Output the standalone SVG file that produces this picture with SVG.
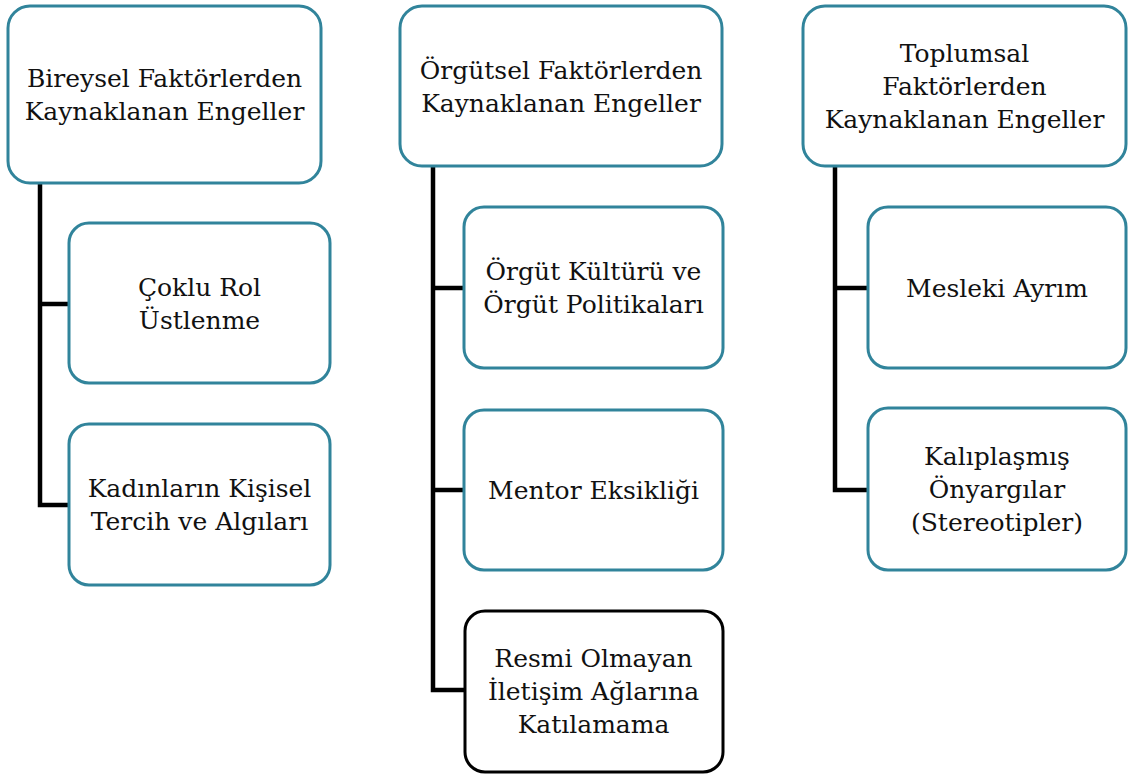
<svg xmlns="http://www.w3.org/2000/svg" width="1128" height="776" viewBox="0 0 1128 776">
<style>
.box{fill:#fff;stroke:#31849B;stroke-width:3}
.boxk{fill:#fff;stroke:#000;stroke-width:3}
.t{font-family:'DejaVu Serif','Liberation Serif',serif;font-size:25px;fill:#111;text-anchor:middle}
.c{fill:none;stroke:#000;stroke-width:4.5}
</style>
<rect width="1128" height="776" fill="#fff"/>
<g id="connectors">
<path class="c" d="M40 183 V505 H70 M40 304 H70"/>
<path class="c" d="M433 166 V690 H465 M433 288 H465 M433 490 H465"/>
<path class="c" d="M835 166 V490 H868 M835 288 H868"/>
</g>
<g id="n1"><rect class="box" x="8" y="6" width="313" height="177" rx="22"/>
<text class="t"><tspan x="164.5" y="87">Bireysel Faktörlerden</tspan><tspan x="164.5" y="120">Kaynaklanan Engeller</tspan></text></g>
<g id="n1a"><rect class="box" x="69" y="223" width="261" height="160" rx="20"/>
<text class="t"><tspan x="199.5" y="296">Çoklu Rol</tspan><tspan x="199.5" y="329">Üstlenme</tspan></text></g>
<g id="n1b"><rect class="box" x="69" y="424" width="261" height="161" rx="20"/>
<text class="t"><tspan x="199.5" y="497">Kadınların Kişisel</tspan><tspan x="199.5" y="530">Tercih ve Algıları</tspan></text></g>
<g id="n2"><rect class="box" x="400" y="6" width="322" height="160" rx="22"/>
<text class="t"><tspan x="561" y="79">Örgütsel Faktörlerden</tspan><tspan x="561" y="112">Kaynaklanan Engeller</tspan></text></g>
<g id="n2a"><rect class="box" x="464" y="207" width="259" height="161" rx="20"/>
<text class="t"><tspan x="593.5" y="280">Örgüt Kültürü ve</tspan><tspan x="593.5" y="313">Örgüt Politikaları</tspan></text></g>
<g id="n2b"><rect class="box" x="464" y="410" width="259" height="160" rx="20"/>
<text class="t" x="593.5" y="499">Mentor Eksikliği</text></g>
<g id="n2c"><rect class="boxk" x="465" y="611" width="258" height="161" rx="20"/>
<text class="t"><tspan x="593.5" y="667">Resmi Olmayan</tspan><tspan x="593.5" y="700">İletişim Ağlarına</tspan><tspan x="593.5" y="733">Katılamama</tspan></text></g>
<g id="n3"><rect class="box" x="803" y="6" width="323" height="160" rx="22"/>
<text class="t"><tspan x="964.5" y="62">Toplumsal</tspan><tspan x="964.5" y="95">Faktörlerden</tspan><tspan x="964.5" y="128">Kaynaklanan Engeller</tspan></text></g>
<g id="n3a"><rect class="box" x="868" y="207" width="258" height="161" rx="20"/>
<text class="t" x="997" y="297">Mesleki Ayrım</text></g>
<g id="n3b"><rect class="box" x="868" y="408" width="258" height="162" rx="20"/>
<text class="t"><tspan x="997" y="465">Kalıplaşmış</tspan><tspan x="997" y="498">Önyargılar</tspan><tspan x="997" y="531">(Stereotipler)</tspan></text></g>
</svg>
